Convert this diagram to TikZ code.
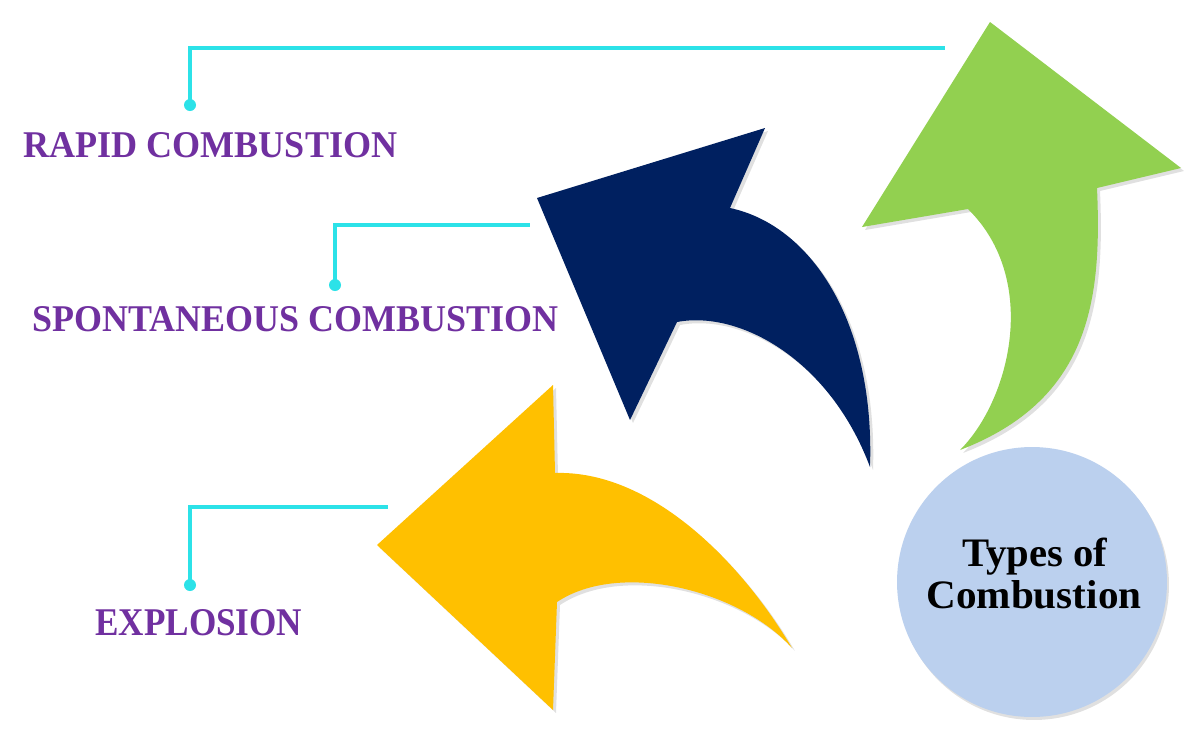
\documentclass[tikz,border=0pt]{standalone}
\usepackage{fontspec}
\setmainfont{Liberation Serif}
\usepackage{graphicx}
\definecolor{arrgreen}{RGB}{146,208,80}
\definecolor{arrnavy}{RGB}{0,32,96}
\definecolor{arryellow}{RGB}{255,192,0}
\definecolor{hubblue}{RGB}{187,208,238}
\definecolor{conncyan}{RGB}{44,226,232}
\definecolor{labpurple}{RGB}{112,48,160}
\tikzset{
  conn/.style={draw=conncyan, line width=2.3pt},
  conndot/.style={circle, fill=conncyan, inner sep=0pt, minimum size=0.24cm},
  lab/.style={inner sep=0pt, anchor=south west, text=labpurple, font=\bfseries},
  hubtext/.style={inner sep=0pt, anchor=base, text=black, font=\bfseries},
  shade/.style={fill=black, opacity=0.12},
}
\begin{document}
\begin{tikzpicture}[x=0.02cm, y=-0.02cm]
\useasboundingbox (0,0) rectangle (1200,731);
\fill[white] (0,0) rectangle (1200,731);

% connectors
\node[conndot] (dot1) at (190,105) {};
\coordinate (end1) at (945,48);
\draw[conn] (dot1.center) |- (end1);
\node[conndot] (dot2) at (335,285) {};
\coordinate (end2) at (530,225);
\draw[conn] (dot2.center) |- (end2);
\node[conndot] (dot3) at (190,585) {};
\coordinate (end3) at (388,507);
\draw[conn] (dot3.center) |- (end3);

% labels
\node[lab] (rapid) at (23,158) {\resizebox{7.48cm}{0.5cm}{RAPID COMBUSTION}};
\node[lab] (spont) at (32,332) {\resizebox{10.52cm}{0.5cm}{SPONTANEOUS COMBUSTION}};
\node[lab] (expl) at (95,636) {\resizebox{4.14cm}{0.52cm}{EXPLOSION}};

% green arrow (up)
\def\greenpath{(990,22) -- (1181,168) -- (1097,188)
  .. controls (1102,300) and (1090,400) .. (960,450)
  .. controls (1010,400) and (1040,280) .. (968,209)
  -- (862,227) -- cycle}
\fill[shade, shift={(3,3)}] \greenpath;
\fill[arrgreen] \greenpath;

% navy arrow (up-left)
\def\navypath{(537,198) -- (765,128) -- (730,208)
  .. controls (810,225) and (875,320) .. (870,467)
  .. controls (830,360) and (740,310) .. (677,322)
  -- (630,420) -- cycle}
\fill[shade, shift={(3,3)}] \navypath;
\fill[arrnavy] \navypath;

% yellow arrow (left)
\def\yellowpath{(377,545) -- (553,385) -- (555,473)
  .. controls (650,470) and (740,560) .. (792,648)
  .. controls (740,590) and (620,560) .. (557,602)
  -- (553,710) -- cycle}
\fill[shade, shift={(3,3)}] \yellowpath;
\fill[arryellow] \yellowpath;

% hub
\fill[black, opacity=0.12] (1034,585) circle[radius=2.7cm];
\node[circle, fill=hubblue, inner sep=0pt, minimum size=5.4cm] (hub) at (1032,582) {};
\node[hubtext] (hubl1) at (1035,566) {\resizebox{2.9cm}{0.57cm}{Types of}};
\node[hubtext] (hubl2) at (1034,608) {\resizebox{4.3cm}{0.56cm}{Combustion}};
\end{tikzpicture}
\end{document}
